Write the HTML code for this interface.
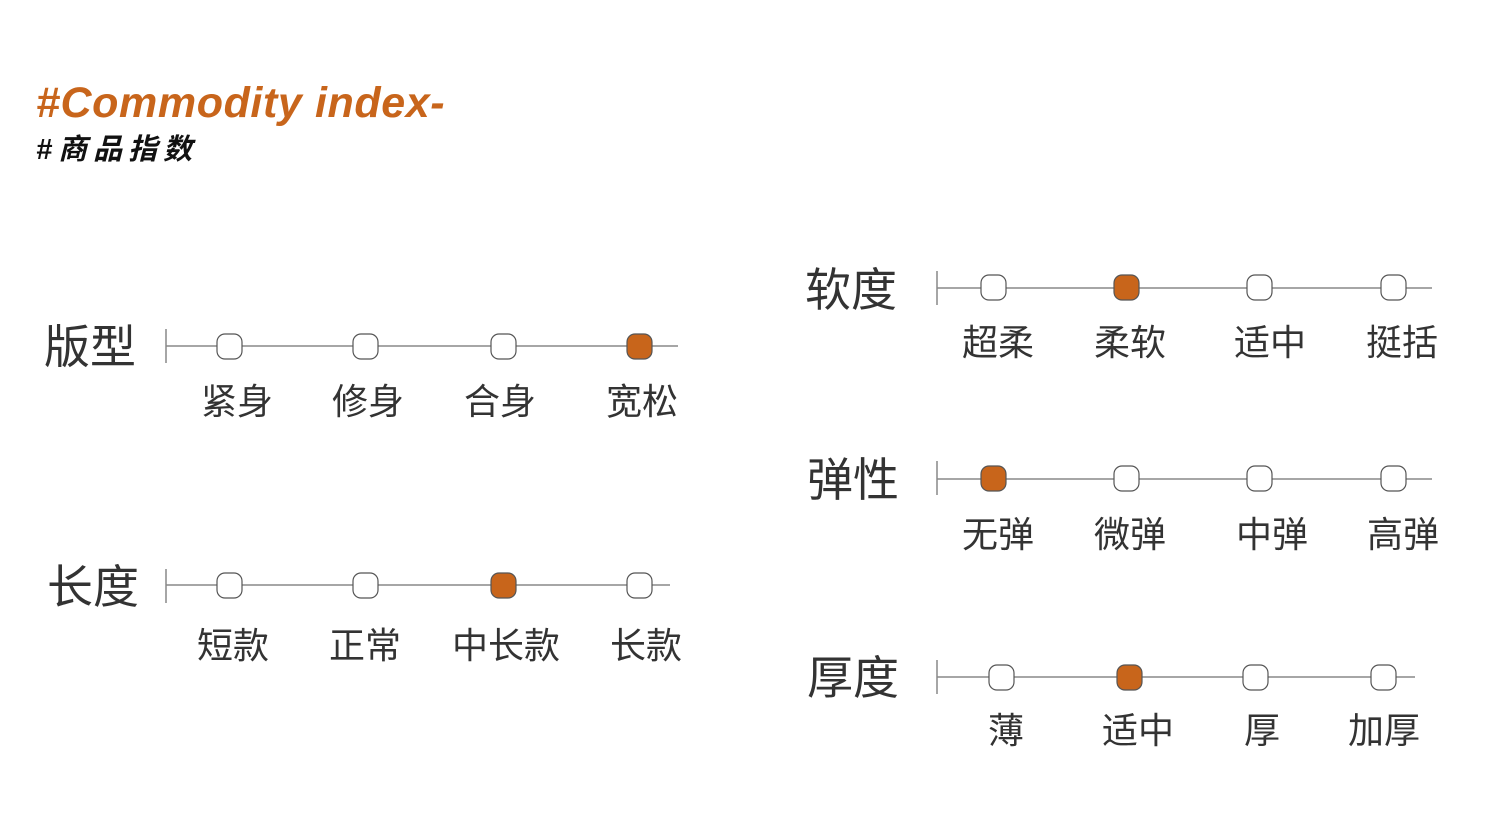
<!DOCTYPE html>
<html><head><meta charset="utf-8"><style>
html,body{margin:0;padding:0;background:#fff;}
svg{display:block;}
text{font-family:"Liberation Sans","Noto Sans CJK SC",sans-serif;fill:#333;}
.h{font-size:46px;}
.o{font-size:36px;}
</style></head><body>
<svg width="1500" height="838" viewBox="0 0 1500 838" xmlns="http://www.w3.org/2000/svg">
<text x="36" y="117" style="font-size:43px;font-weight:bold;font-style:italic;fill:#c8651b;letter-spacing:0.6px">#Commodity index-</text>
<text x="36" y="159" style="font-size:29px;font-weight:bold;font-style:italic;fill:#111;letter-spacing:6px">#商品指数</text>
<g stroke="#888" stroke-width="1.5" fill="none">
<line x1="166" y1="329" x2="166" y2="363"/><line x1="166" y1="346" x2="678" y2="346"/>
<line x1="166" y1="569" x2="166" y2="603"/><line x1="166" y1="585" x2="670" y2="585"/>
<line x1="937" y1="271" x2="937" y2="305"/><line x1="937" y1="288" x2="1432" y2="288"/>
<line x1="937" y1="461" x2="937" y2="495"/><line x1="937" y1="479" x2="1432" y2="479"/>
<line x1="937" y1="660" x2="937" y2="694"/><line x1="937" y1="677" x2="1415" y2="677"/>
</g>
<g stroke="#555" stroke-width="1.2">
<rect x="217" y="334" width="25" height="25" rx="8" fill="#fff"/>
<rect x="353" y="334" width="25" height="25" rx="8" fill="#fff"/>
<rect x="491" y="334" width="25" height="25" rx="8" fill="#fff"/>
<rect x="627" y="334" width="25" height="25" rx="8" fill="#c8651b"/>
<rect x="217" y="573" width="25" height="25" rx="8" fill="#fff"/>
<rect x="353" y="573" width="25" height="25" rx="8" fill="#fff"/>
<rect x="491" y="573" width="25" height="25" rx="8" fill="#c8651b"/>
<rect x="627" y="573" width="25" height="25" rx="8" fill="#fff"/>
<rect x="981" y="275" width="25" height="25" rx="8" fill="#fff"/>
<rect x="1114" y="275" width="25" height="25" rx="8" fill="#c8651b"/>
<rect x="1247" y="275" width="25" height="25" rx="8" fill="#fff"/>
<rect x="1381" y="275" width="25" height="25" rx="8" fill="#fff"/>
<rect x="981" y="466" width="25" height="25" rx="8" fill="#c8651b"/>
<rect x="1114" y="466" width="25" height="25" rx="8" fill="#fff"/>
<rect x="1247" y="466" width="25" height="25" rx="8" fill="#fff"/>
<rect x="1381" y="466" width="25" height="25" rx="8" fill="#fff"/>
<rect x="989" y="665" width="25" height="25" rx="8" fill="#fff"/>
<rect x="1117" y="665" width="25" height="25" rx="8" fill="#c8651b"/>
<rect x="1243" y="665" width="25" height="25" rx="8" fill="#fff"/>
<rect x="1371" y="665" width="25" height="25" rx="8" fill="#fff"/>
</g>
<g class="h">
<text x="44" y="363">版型</text>
<text x="47" y="603">长度</text>
<text x="805" y="306">软度</text>
<text x="807" y="496">弹性</text>
<text x="807" y="694">厚度</text>
</g>
<g class="o" text-anchor="middle">
<text x="237" y="414">紧身</text><text x="368" y="414">修身</text><text x="500" y="414">合身</text><text x="642" y="414">宽松</text>
<text x="233" y="658">短款</text><text x="365" y="658">正常</text><text x="506" y="658">中长款</text><text x="646" y="658">长款</text>
<text x="998" y="355">超柔</text><text x="1130" y="355">柔软</text><text x="1270" y="355">适中</text><text x="1402" y="355">挺括</text>
<text x="998" y="547">无弹</text><text x="1130" y="547">微弹</text><text x="1272" y="547">中弹</text><text x="1403" y="547">高弹</text>
<text x="1006" y="743">薄</text><text x="1138" y="743">适中</text><text x="1262" y="743">厚</text><text x="1384" y="743">加厚</text>
</g>
</svg>
</body></html>
